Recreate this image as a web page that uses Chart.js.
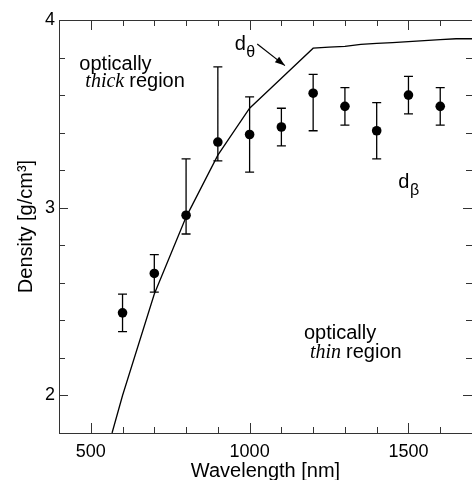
<!DOCTYPE html>
<html>
<head>
<meta charset="utf-8">
<script src="https://cdn.jsdelivr.net/npm/chart.js@4/dist/chart.umd.min.js"></script>
<style>
html,body{margin:0;padding:0;background:#fff;overflow:hidden}
canvas{display:block}
</style>
</head>
<body>
<canvas id="c" width="472" height="480"></canvas>
<script>
// measured d_beta points with asymmetric error bars
const wavelengths=[600,700,800,900,1000,1100,1200,1300,1400,1500,1600]
const densityBeta=[2.44,2.65,2.96,3.35,3.39,3.43,3.61,3.54,3.41,3.60,3.54]
const errUp=[0.10,0.10,0.30,0.40,0.20,0.10,0.10,0.10,0.15,0.10,0.10]
const errDown=[0.10,0.10,0.10,0.10,0.20,0.10,0.20,0.10,0.15,0.10,0.10]

// d_theta curve
const thetaWavelengths=[567,600,700,800,900,1000,1100,1200,1250,1300,1350,1400,1450,1500,1550,1600,1650,1700]
const densityTheta=[1.8,2.0,2.54,2.95,3.28,3.53,3.69,3.85,3.855,3.86,3.87,3.875,3.88,3.885,3.89,3.895,3.90,3.90]

const xTicks=[500,1000,1500]
const yTicks=[2,3,4]

const ink='#000'
const axisInk='#333'
const sans='"Liberation Sans", Arial, sans-serif'
const serif='"Liberation Serif", "Times New Roman", serif'

const isMajorY=v=>yTicks.some(t=>Math.abs(t-v)<1e-6)

function at(chart,x,y){
  return [chart.scales.x.getPixelForValue(x),chart.scales.y.getPixelForValue(y)]
}

// inward ticks on all four sides + top frame line
const frame={
  id:'frame',
  afterDraw(chart){
    const {ctx,chartArea:a,scales:{x,y}}=chart
    ctx.save()
    ctx.strokeStyle=axisInk
    ctx.lineWidth=1
    ctx.beginPath()
    ctx.moveTo(a.left,a.top+0.5);ctx.lineTo(a.right,a.top+0.5)
    x.ticks.forEach(t=>{
      const p=Math.round(x.getPixelForValue(t.value))+0.5
      const len=xTicks.includes(t.value)?10:6
      ctx.moveTo(p,a.bottom);ctx.lineTo(p,a.bottom-len)
      ctx.moveTo(p,a.top);ctx.lineTo(p,a.top+len)
    })
    y.ticks.forEach(t=>{
      const p=Math.round(y.getPixelForValue(t.value))+0.5
      const len=isMajorY(t.value)?9:6
      ctx.moveTo(a.left,p);ctx.lineTo(a.left+len,p)
      ctx.moveTo(a.right,p);ctx.lineTo(a.right-len,p)
    })
    ctx.stroke()
    ctx.restore()
  }
}

const errorBars={
  id:'errorBars',
  beforeDatasetsDraw(chart){
    const {ctx}=chart
    ctx.save()
    ctx.strokeStyle=ink
    ctx.lineWidth=1.3
    ctx.beginPath()
    wavelengths.forEach((w,i)=>{
      const [x,yt]=at(chart,w,densityBeta[i]+errUp[i])
      const [,yb]=at(chart,w,densityBeta[i]-errDown[i])
      ctx.moveTo(x,yt);ctx.lineTo(x,yb)
      ctx.moveTo(x-4.5,yt);ctx.lineTo(x+4.5,yt)
      ctx.moveTo(x-4.5,yb);ctx.lineTo(x+4.5,yb)
    })
    ctx.stroke()
    ctx.restore()
  }
}

const notes={
  id:'notes',
  afterDraw(chart){
    const {ctx}=chart
    ctx.save()
    ctx.fillStyle=ink
    ctx.textBaseline='alphabetic'
    ctx.textAlign='left'
    const upright='20px '+sans
    const italic='italic 20px '+serif

    function regionLabel(x1,y1,x2,y2,word){
      let [px,py]=at(chart,x1,y1)
      ctx.font=upright
      ctx.fillText('optically',px,py)
      ;[px,py]=at(chart,x2,y2)
      ctx.font=italic
      ctx.fillText(word,px,py)
      const w=ctx.measureText(word+' ').width
      ctx.font=upright
      ctx.fillText('region',px+w,py)
    }
    regionLabel(464,3.734,483,3.642,'thick')
    regionLabel(1171,2.303,1190,2.197,'thin')

    function sub(x,y,s){
      const [px,py]=at(chart,x,y)
      ctx.font=upright
      ctx.fillText('d',px,py)
      const w=ctx.measureText('d').width
      ctx.font='16px '+sans
      ctx.fillText(s,px+w+0.5,py+7)
    }
    sub(953,3.84,'θ')
    sub(1468,3.105,'β')

    // arrow from the d_theta label to the curve
    const [ax,ay]=at(chart,1024,3.872)
    const [bx,by]=at(chart,1111,3.757)
    ctx.strokeStyle=ink
    ctx.lineWidth=1.2
    ctx.beginPath();ctx.moveTo(ax,ay);ctx.lineTo(bx,by);ctx.stroke()
    const ang=Math.atan2(by-ay,bx-ax)
    ctx.beginPath()
    ctx.moveTo(bx,by)
    ctx.lineTo(bx-10*Math.cos(ang)+3.5*Math.sin(ang),by-10*Math.sin(ang)-3.5*Math.cos(ang))
    ctx.lineTo(bx-10*Math.cos(ang)-3.5*Math.sin(ang),by-10*Math.sin(ang)+3.5*Math.cos(ang))
    ctx.closePath();ctx.fill()
    ctx.restore()
  }
}

new Chart(document.getElementById('c'),{
  type:'scatter',
  data:{
    datasets:[
      {
        label:'d_theta',
        data:thetaWavelengths.map((w,i)=>({x:w,y:densityTheta[i]})),
        showLine:true,
        borderColor:ink,
        borderWidth:1.3,
        pointRadius:0,
        tension:0
      },
      {
        label:'d_beta',
        data:wavelengths.map((w,i)=>({x:w,y:densityBeta[i]})),
        backgroundColor:ink,
        borderWidth:0,
        pointRadius:4.8
      }
    ]
  },
  options:{
    responsive:false,
    animation:false,
    devicePixelRatio:1,
    layout:{autoPadding:false,padding:{top:20,right:0,left:0,bottom:0}},
    plugins:{legend:{display:false},tooltip:{enabled:false}},
    scales:{
      x:{
        type:'linear',min:400,max:1700,
        afterFit(s){
          s.height=47
          s.paddingLeft=0
          s.paddingRight=0
        },
        afterBuildTicks(s){
          const t=[]
          for(let v=500;v<=1600;v+=100)t.push({value:v})
          s.ticks=t
        },
        ticks:{
          autoSkip:false,maxRotation:0,padding:8,
          color:ink,font:{family:sans,size:18},
          callback:v=>xTicks.includes(v)?String(v):''
        },
        grid:{display:false,drawTicks:false},
        border:{display:true,color:axisInk,width:1},
        title:{display:true,text:'Wavelength [nm]',color:ink,
          font:{family:sans,size:20,lineHeight:0.9},padding:0}
      },
      y:{
        min:1.8,max:4,
        afterFit(s){s.width=59},
        ticks:{
          stepSize:0.2,autoSkip:false,padding:4,
          color:ink,font:{family:sans,size:18},
          callback:v=>isMajorY(v)?String(Math.round(v)):''
        },
        grid:{display:false,drawTicks:false},
        border:{display:true,color:axisInk,width:1},
        title:{display:true,text:'Density [g/cm³]',color:ink,
          font:{family:sans,size:20,lineHeight:1},padding:{top:16,bottom:0}}
      }
    }
  },
  plugins:[errorBars,frame,notes]
})
</script>
</body>
</html>
